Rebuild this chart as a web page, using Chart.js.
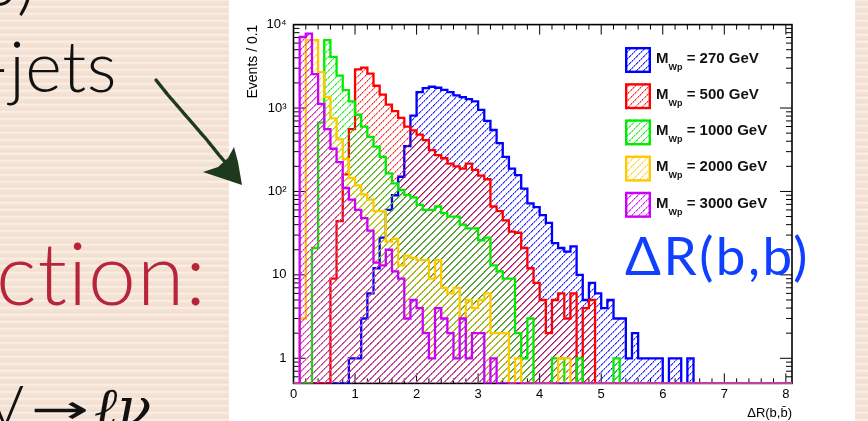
<!DOCTYPE html>
<html><head><meta charset="utf-8">
<script src="https://cdn.jsdelivr.net/npm/chart.js@4.4.1/dist/chart.umd.min.js"></script>
<style>
html,body{margin:0;padding:0;width:868px;height:421px;overflow:hidden;}
body{position:relative;background-color:#f4e2d4;
 background-image:repeating-linear-gradient(0deg, rgba(255,250,245,0.45) 0px, rgba(255,250,245,0.45) 2px, rgba(236,206,188,0.25) 3px, rgba(255,255,255,0) 5px, rgba(255,255,255,0) 7px);}
#panel{position:absolute;left:229px;top:0;width:626px;height:421px;background:#fff;}
#c{position:absolute;left:0;top:0;}
#ov{position:absolute;left:0;top:0;pointer-events:none;}
</style></head>
<body>
<div id="panel"></div>
<canvas id="c" width="868" height="421"></canvas>
<svg id="ov" width="868" height="421" xmlns="http://www.w3.org/2000/svg">
 <text x="36" y="6" text-anchor="end" font-family="Lato" font-weight="300" font-size="75" fill="#111">b)</text>
 <text x="117" y="92" text-anchor="end" font-family="Lato" font-weight="300" font-size="70" letter-spacing="0.5" fill="#111">-jets</text>
 <text x="207" y="305" text-anchor="end" font-family="Lato" font-weight="300" font-size="86" letter-spacing="1" fill="#b8253a">ction:</text>
 <text x="24" y="427" text-anchor="end" font-family="Lato" font-weight="300" font-size="58" fill="#111">V</text>
 <text transform="translate(31,423) scale(1.75,1)" font-family="DejaVu Sans" font-size="40" fill="#111">→</text>
 <text x="94" y="427" font-family="DejaVu Serif" font-style="italic" font-size="56" fill="#111">ℓν</text>
 <path d="M156,80 L168,95 L181,110 L194,125 L207,140 L219,155 L231,169" stroke="#1d3a1f" stroke-width="3.4" fill="none" stroke-linecap="round" stroke-linejoin="round" stroke-dasharray="5 1.2"/>
 <polygon points="242,185 203,172 218,167 228,158 234,147 238,162" fill="#1d3a1f"/>
 <g id="legendText"></g>
 <text x="625" y="275" font-family="Lato, DejaVu Sans" font-weight="400" font-size="53" letter-spacing="2.5" fill="#1040ff">ΔR(b,b)</text>
</svg>
<script>
// ---- data (bin width 0.1, bins from 0.0 to 8.1) ----
const binWidth = 0.1;
const xMax = 8.1;
const xTickValues = [0,1,2,3,4,5,6,7,8];
const xTickLabels = ['0','1','2','3','4','5','6','7','8'];
const yTickValues = [1,10,100,1000,10000];
const yTickLabels = ['1','10','10²','10³','10⁴'];
const seriesMasses = ['270','500','1000','2000','3000'];

const m270 = [0,0,0,0,0,0,0,0,0,
 1,1,3,6,12,28,60,90,150,350,810,1550,1730,1800,1750,1650,1550,1420,1350,1280,1200,950,700,545,380,260,188,157,108,72,65,52,42,24,21,19,22,10,5,8,6,4,5,3,3,1,2,1,1,1,1,0,1,1,0,1,
 0,0,0,0,0,0,0,0,0,0,0,0,0,0,0,0];
const m500 = [0,0,0,0,0,0,
 9,44,160,560,2900,3050,2580,1850,1450,1100,920,760,600,540,480,413,313,273,250,215,200,188,215,181,155,140,66,58,45,33,32,21,12,8,5,2,5,6,3,6,0,4,5,
 0,0,0,0,0,0,0,0,0,0,0,0,0,0,0,0,0,0,0,0,0,0,0,0,0,0,0,0,0,0,0,0];
const m1000 = [0,0,0,
 21,670,6500,4100,2450,1640,1200,830,600,450,345,260,165,125,104,91,85,69,60,60,66,55,50,50,40,36,36,26,28,13,11,9,9,2,1,3,0,0,0,1,1,0,0,1,0,0,0,0,0,1,
 0,0,0,0,0,0,0,0,0,0,0,0,0,0,0,0,0,0,0,0,0,0,0,0,0,0,0,0];
const m2000 = [0,3,6500,6500,2700,1360,750,420,245,145,118,92,80,58,58,25,27,13,17,16,15,15,9,15,7,6,7,3,5,4,5,6,2,2,2,0,1,
 0,0,0,0,0,0,1,1,
 0,0,0,0,0,0,0,0,0,0,0,0,0,0,0,0,0,0,0,0,0,0,0,0,0,0,0,0,0,0,0,0,0,0,0,0];
const m3000 = [0,7100,7800,2550,1120,560,325,225,110,80,60,48,34,14,13,20,11,9,3,5,4,2,1,4,3,2,1,3,1,2,2,0,1,
 0,0,0,0,0,0,0,0,0,0,0,0,0,0,0,0,0,0,0,0,0,0,0,0,0,0,0,0,0,0,0,0,0,0,0,0,0,0,0,0,0,0,0,0,0,0,0,0];

// ---- styles ----
const seriesRGB = [[0,0,255],[255,0,0],[0,235,0],[255,200,0],[205,0,250]];
const yMin = 0.5, yMax = 10000;

const canvas = document.getElementById('c');
const ctx0 = canvas.getContext('2d');
function hatch(rgb, phase){
  const n = 7;
  const t = document.createElement('canvas'); t.width = n; t.height = n;
  const g = t.getContext('2d');
  const img = g.createImageData(n, n);
  const put = (px, py, a) => {
    const o = (py * n + px) * 4;
    img.data[o] = rgb[0]; img.data[o+1] = rgb[1]; img.data[o+2] = rgb[2];
    img.data[o+3] = Math.max(img.data[o+3], Math.round(a * 255));
  };
  for (let i = 0; i < n; i++){
    const strong = ((i + phase) % 2) === 0;
    put(i, n - 1 - i, strong ? 0.85 : 0.5);
    put(i, (n - i) % n, strong ? 0.45 : 0.2);
  }
  g.putImageData(img, 0, 0);
  return ctx0.createPattern(t, 'repeat');
}
const patterns = seriesRGB.map((c, i) => hatch(c, i % 2));
const rgbStr = c => 'rgb(' + c.join(',') + ')';

function toPoints(arr){
  const p = arr.map((v, k) => ({x: Math.round(k * binWidth * 100) / 100, y: v > 0 ? v : yMin}));
  p.push({x: xMax, y: arr[arr.length - 1] > 0 ? arr[arr.length - 1] : yMin});
  return p;
}
const allSeries = [m270, m500, m1000, m2000, m3000];
const datasets = allSeries.map((arr, i) => ({
  label: 'M_Wp = ' + seriesMasses[i] + ' GeV',
  data: toPoints(arr),
  stepped: true,
  borderColor: rgbStr(seriesRGB[i]),
  borderWidth: 2.3,
  backgroundColor: patterns[i],
  fill: 'start',
  pointRadius: 0,
  tension: 0,
  borderJoinStyle: 'miter',
  borderCapStyle: 'butt'
})).reverse(); // first series drawn at the bottom, last on top

// legend text (real SVG text)
const lg = document.getElementById('legendText');
const legendX = 625, legendTop = 47, legendDy = 36.2, boxSize = 26;
seriesMasses.forEach((m, i) => {
  const t = document.createElementNS('http://www.w3.org/2000/svg', 'text');
  t.setAttribute('x', legendX + 31);
  t.setAttribute('y', legendTop + 15.7 + i * legendDy);
  t.setAttribute('font-family', 'Liberation Sans, Arial, sans-serif');
  t.setAttribute('font-weight', 'bold');
  t.setAttribute('font-size', '15');
  t.setAttribute('fill', '#111');
  t.innerHTML = 'M<tspan font-size="9" dy="7">Wp</tspan><tspan dy="-7"> = ' + m + ' GeV</tspan>';
  lg.appendChild(t);
});

const decor = {
  id: 'decor',
  beforeDatasetsDraw(chart){
    const {ctx, chartArea: a, scales: {x, y}} = chart;
    ctx.save();
    ctx.strokeStyle = '#000';
    ctx.lineWidth = 1;
    const seg = (x1, y1, x2, y2) => { ctx.beginPath(); ctx.moveTo(x1, y1); ctx.lineTo(x2, y2); ctx.stroke(); };
    for (let k = 0; k <= 40; k++){
      const v = k * 0.2; const px = x.getPixelForValue(v);
      const L = (k % 5 === 0) ? 10 : 5;
      seg(px, a.bottom, px, a.bottom - L);
      seg(px, a.top, px, a.top + L);
    }
    for (let e = -1; e <= 4; e++){
      for (let m = 1; m <= 9; m++){
        const v = m * Math.pow(10, e);
        if (v < yMin || v > yMax) continue;
        const py = y.getPixelForValue(v);
        const L = (m === 1) ? 12 : 6;
        seg(a.left, py, a.left + L, py);
        seg(a.right, py, a.right - L, py);
      }
    }
    ctx.lineWidth = 1.6;
    ctx.strokeRect(a.left, a.top, a.right - a.left, a.bottom - a.top);
    ctx.restore();
  },
  afterDatasetsDraw(chart){
    const {ctx} = chart;
    ctx.save();
    seriesRGB.forEach((c, i) => {
      const by = legendTop + i * legendDy;
      ctx.fillStyle = '#fff';
      ctx.fillRect(legendX, by, boxSize, boxSize);
      ctx.fillStyle = patterns[i];
      ctx.fillRect(legendX, by, boxSize, boxSize);
      ctx.strokeStyle = rgbStr(c);
      ctx.lineWidth = 2.4;
      ctx.strokeRect(legendX + 1.2, by + 1.2, boxSize - 2.4, boxSize - 2.4);
    });
    ctx.restore();
  }
};

Chart.defaults.font.family = 'Liberation Sans, Arial, sans-serif';
Chart.defaults.color = '#000';
new Chart(canvas, {
  type: 'line',
  data: {datasets},
  options: {
    responsive: false,
    animation: false,
    devicePixelRatio: 1,
    layout: {padding: {left: 0, right: 76, top: 24.6, bottom: 0}},
    plugins: {legend: {display: false}, tooltip: {enabled: false}},
    scales: {
      x: {
        type: 'linear', min: 0, max: xMax,
        afterBuildTicks: s => { s.ticks = xTickValues.map(v => ({value: v})); },
        afterFit: s => { s.height = 37.6; },
        ticks: {autoSkip: false, maxRotation: 0, padding: 3, font: {size: 13},
          callback: (v) => { const i = xTickValues.indexOf(v); return i >= 0 ? xTickLabels[i] : ''; }},
        grid: {display: false, drawTicks: false},
        border: {display: false},
        title: {display: true, text: 'ΔR(b,b̄)', align: 'end', font: {size: 13}, padding: {top: 0, bottom: 0}}
      },
      y: {
        type: 'logarithmic', min: yMin, max: yMax,
        afterBuildTicks: s => { s.ticks = yTickValues.map(v => ({value: v})); },
        afterFit: s => { s.width = 293.5; },
        ticks: {autoSkip: false, padding: 7, font: {size: 13},
          callback: (v) => { const i = yTickValues.indexOf(v); return i >= 0 ? yTickLabels[i] : ''; }},
        grid: {display: false, drawTicks: false},
        border: {display: false},
        title: {display: true, text: 'Events / 0.1', align: 'end', font: {size: 14}, padding: {top: 244.5, bottom: 0}}
      }
    }
  },
  plugins: [decor]
});
</script>
</body></html>
